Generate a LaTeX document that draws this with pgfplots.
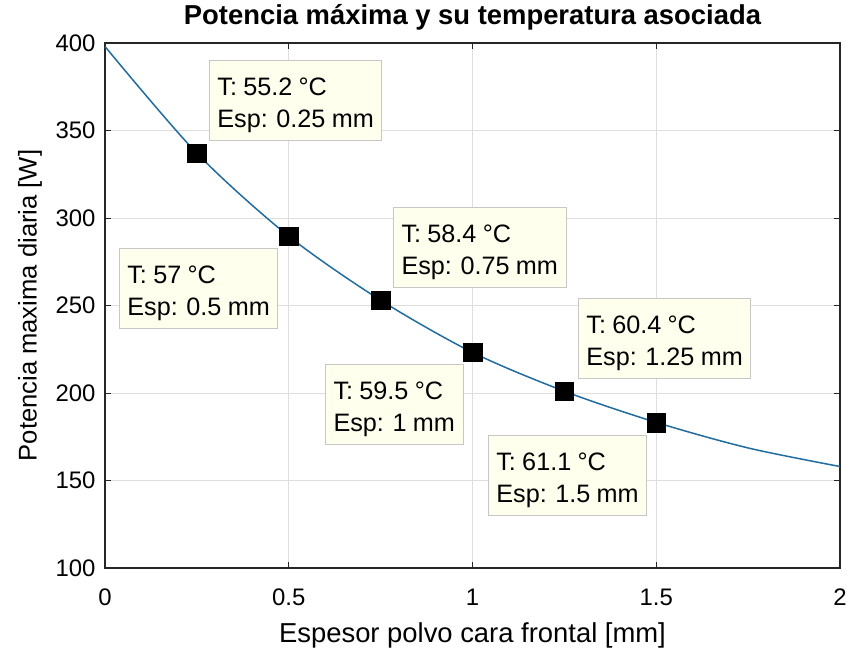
\documentclass[border=0pt]{standalone}
\usepackage{fontspec}
\setmainfont{Liberation Sans}
\newfontfamily\tipfont{Liberation Sans}[WordSpace=0.9]
\usepackage{pgfplots}
\pgfplotsset{compat=1.18}
\definecolor{mblue}{RGB}{32,108,160}
\definecolor{tipbg}{RGB}{255,255,238}
\definecolor{axgray}{RGB}{38,38,38}
\tikzset{tip/.style={draw=black!22, line width=0.8pt, fill=tipbg, align=left, anchor=north west,
    font=\tipfont\fontsize{25.3}{32}\selectfont, inner xsep=8bp, inner ysep=8bp}}
\begin{document}
\begin{tikzpicture}
\begin{axis}[
  scale only axis, width=735bp, height=525bp,
  xmin=0, xmax=2, ymin=100, ymax=400,
  xtick={0,0.5,1,1.5,2}, ytick={100,150,200,250,300,350,400},
  grid=major, major grid style={black!13, line width=0.8pt},
  axis line style={axgray, line width=1.3pt},
  tick align=inside, tick style={axgray, line width=0.9pt}, major tick length=6bp,
  ticklabel style={font=\fontsize{24}{26}\selectfont},
  xticklabel style={anchor=base, yshift=-37bp},
  yticklabel style={anchor=east, xshift=-6bp},
  /pgf/number format/assume math mode=true,
  xlabel={Espesor polvo cara frontal [mm]},
  ylabel={Potencia maxima diaria [W]},
  xlabel style={font=\fontsize{27.5}{30}\selectfont, at={(axis description cs:0.5,-0.141)}, anchor=base},
  ylabel style={font=\fontsize{25.7}{28}\selectfont, at={(axis description cs:-0.102,0.5)}, anchor=center},
  title={Potencia máxima y su temperatura asociada},
  title style={font=\bfseries\fontsize{27.5}{30}\selectfont, at={(axis description cs:0.5,1)}, anchor=base, yshift=13bp},
]
\addplot[mblue, line width=1.5bp, smooth, no marks] coordinates {
  (0,398) (0.25,337) (0.5,289.6) (0.75,253) (1,223.2) (1.25,201) (1.5,183.2) (1.75,168.6) (2,158)
};
\addplot[only marks, mark=square*, mark size=9.3bp, black] coordinates {
  (0.25,337) (0.5,289.6) (0.75,253) (1,223.2) (1.25,201) (1.5,183.2)
};
\node[tip] at (axis cs:0.283,390.3) {\rule{0pt}{27bp}T: 55.2 °C\\Esp: 0.25 mm};
\node[tip] at (axis cs:0.038,282.9) {\rule{0pt}{27bp}T: 57 °C\\Esp: 0.5 mm};
\node[tip] at (axis cs:0.784,306.3) {\rule{0pt}{27bp}T: 58.4 °C\\Esp: 0.75 mm};
\node[tip] at (axis cs:0.599,216.6) {\rule{0pt}{27bp}T: 59.5 °C\\Esp: 1 mm};
\node[tip] at (axis cs:1.287,254.3) {\rule{0pt}{27bp}T: 60.4 °C\\Esp: 1.25 mm};
\node[tip] at (axis cs:1.042,176) {\rule{0pt}{27bp}T: 61.1 °C\\Esp: 1.5 mm};
\end{axis}
\path (current axis.south west) ++(-105bp,-85bp) rectangle ++(853bp,653bp);
\end{tikzpicture}
\end{document}
